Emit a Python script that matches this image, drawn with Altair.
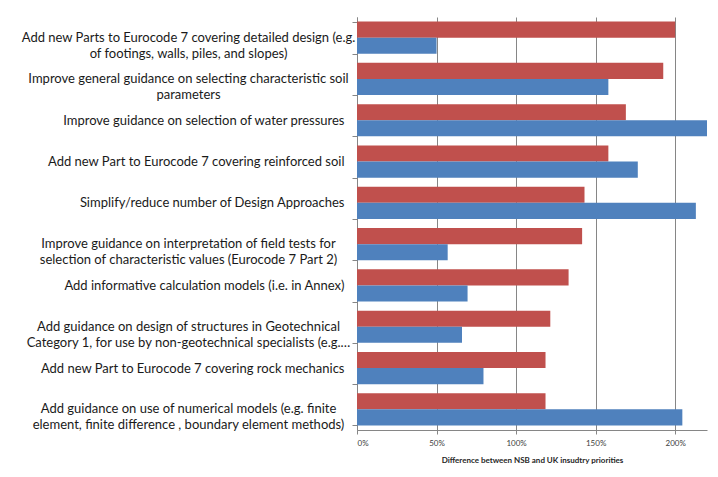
import altair as alt
import pandas as pd

categories = [
    "Add new Parts to Eurocode 7 covering detailed design (e.g.\nof footings, walls, piles, and slopes)",
    "Improve general guidance on selecting characteristic soil\nparameters",
    "Improve guidance on selection of water pressures",
    "Add new Part to Eurocode 7 covering reinforced soil",
    "Simplify/reduce number of Design Approaches",
    "Improve guidance on interpretation of field tests for\nselection of characteristic values (Eurocode 7 Part 2)",
    "Add informative calculation models (i.e. in Annex)",
    "Add guidance on design of structures in Geotechnical\nCategory 1, for use by non-geotechnical specialists (e.g.\u2026",
    "Add new Part to Eurocode 7 covering rock mechanics",
    "Add guidance on use of numerical models (e.g. finite\nelement, finite difference , boundary element methods)",
]
series = ["NSB", "UK industry"]
nsb = [2.00, 1.925, 1.69, 1.58, 1.43, 1.415, 1.33, 1.215, 1.185, 1.185]
uk = [0.50, 1.58, 2.20, 1.765, 2.13, 0.57, 0.695, 0.66, 0.795, 2.045]
x_ticks = [0, 0.5, 1.0, 1.5, 2.0]

rows = []
for c, a, b in zip(categories, nsb, uk):
    rows.append({"category": c, "series": series[0], "value": a})
    rows.append({"category": c, "series": series[1], "value": b})
df = pd.DataFrame(rows)

label_style = dict(
    title=None,
    orient="left",
    labelBaseline="middle",
    labelLineHeight=16,
    labelFont="Lato",
    labelFontSize=13,
    labelColor="#1a1a1a",
    labelLimit=0,
    grid=False,
)

y_scale = alt.Scale(paddingInner=0.22, paddingOuter=0.11)

x_enc = alt.X(
    "value:Q",
    scale=alt.Scale(domain=[0, 2.2], nice=False),
    axis=alt.Axis(
        values=x_ticks,
        format=".0%",
        grid=True,
        gridColor="#868686",
        domainColor="#868686",
        tickColor="#868686",
        tickSize=4,
        labelFont="Lato",
        labelFontSize=8,
        labelColor="#404040",
        labelPadding=5,
        title="Difference between NSB and UK insudtry priorities",
        titleFont="Lato",
        titleFontSize=8,
        titleFontWeight="bold",
        titleColor="#262626",
        titlePadding=9,
    ),
)

base = alt.Chart(df).encode(
    x=x_enc,
    yOffset=alt.YOffset("series:N", sort=series),
    color=alt.Color(
        "series:N",
        scale=alt.Scale(domain=series, range=["#C0504D", "#4F81BD"]),
        legend=None,
    ),
)

# single-line labels: right-aligned, with ticks and domain
bars = base.mark_bar().encode(
    y=alt.Y(
        "category:N",
        sort=categories,
        scale=y_scale,
        axis=alt.Axis(
            labelExpr="indexof(datum.label, '\\n') < 0 ? datum.label : ''",
            labelAlign="right",
            labelPadding=8,
            tickBand="extent",
            tickSize=5,
            tickColor="#868686",
            domainColor="#868686",
            **label_style,
        ),
    )
)

# two-line labels: lines centred on each other
wrapped = base.mark_bar(opacity=0).encode(
    y=alt.Y(
        "category:N",
        sort=categories,
        scale=y_scale,
        axis=alt.Axis(
            labelExpr="indexof(datum.label, '\\n') < 0 ? '' : split(datum.label, '\\n')",
            labelAlign="center",
            labelPadding=169,
            ticks=False,
            domain=False,
            **label_style,
        ),
    )
)

chart = alt.layer(bars, wrapped).resolve_axis(y="independent").properties(
    width=350,
    height=413,
    autosize=alt.AutoSizeParams(type="none"),
    padding={"left": 349, "top": 9, "right": 3, "bottom": 39},
).configure_view(stroke=None)

chart.save("out.html", embed_options={"renderer": "svg", "actions": False})
